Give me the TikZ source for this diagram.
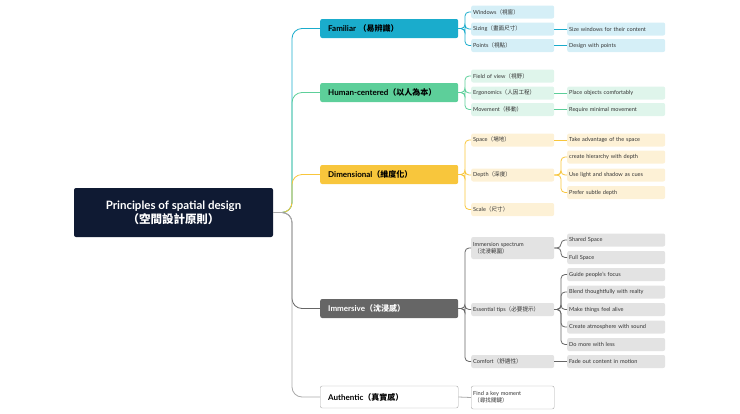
\documentclass[tikz,border=0pt]{standalone}
\usepackage{fontspec}
\setmainfont{Lato}
\newfontfamily\cjk{Noto Sans CJK TC}
\newcommand{\zh}[1]{{\cjk #1}}
\definecolor{navy}{HTML}{0F1A33}
\definecolor{cy}{HTML}{1AACCC}\definecolor{cyl}{HTML}{D5EFF7}
\definecolor{gr}{HTML}{5DCF9A}\definecolor{grl}{HTML}{DFF5EB}
\definecolor{ye}{HTML}{F8C63C}\definecolor{yel}{HTML}{FDF1D6}
\definecolor{gy}{HTML}{666666}\definecolor{gyl}{HTML}{E3E3E3}
\definecolor{bd}{HTML}{AAAAAA}
\begin{document}
\begin{tikzpicture}[x=1pt,y=-1pt,
 l1/.style={anchor=west,minimum width=138pt,minimum height=19pt,rounded corners=2pt,inner xsep=8pt,text width=122pt,align=left,font=\fontsize{8}{9}\selectfont\bfseries},
 l2/.style={anchor=west,minimum width=83pt,minimum height=13pt,rounded corners=2pt,inner xsep=2pt,inner ysep=1pt,text width=79pt,align=left,font=\fontsize{5.6}{6.6}\selectfont,text=black!80},
 l3/.style={anchor=west,minimum width=98pt,minimum height=13pt,rounded corners=2pt,inner xsep=2pt,inner ysep=1pt,text width=94pt,align=left,font=\fontsize{5.6}{6.6}\selectfont,text=black!80},
 ln/.style={line width=0.8pt,rounded corners=4pt},
]
\useasboundingbox (0,0) rectangle (740,413);
\node[fill=navy,text=white,minimum width=199pt,minimum height=49pt,rounded corners=2pt,align=center,font=\fontsize{11.5}{14}\selectfont\bfseries] (root) at (173.5,212.5) {Principles of spatial design\\\zh{（空間設計原則）}};
% L1
\node[l1,fill=cy] (fam) at (320,28.5) {Familiar \zh{（易辨識）}};
\node[l1,fill=gr] (hum) at (320,92.5) {Human-centered\zh{（以人為本）}};
\node[l1,fill=ye] (dim) at (320,174.5) {Dimensional\zh{（維度化）}};
\node[l1,fill=gy,text=white] (imm) at (320,308.5) {Immersive\zh{（沈浸感）}};
\node[l1,draw=bd,fill=white,minimum height=22pt] (aut) at (320,397) {Authentic\zh{（真實感）}};
\foreach \n/\c in {fam/cy,hum/gr,dim/ye,imm/gy,aut/bd}
  \draw[ln,rounded corners=10pt,\c] (root.east) -- (292,212.5) |- (\n.west);
% Familiar
\node[l2,fill=cyl] (f1) at (471,12) {Windows\zh{（視窗）}};
\node[l2,fill=cyl] (f2) at (471,29) {Sizing\zh{（畫面尺寸）}};
\node[l2,fill=cyl] (f3) at (471,45.5) {Points\zh{（視點）}};
\node[l3,fill=cyl] (f2a) at (567,29) {Size windows for their content};
\node[l3,fill=cyl] (f3a) at (567,45.5) {Design with points};
\foreach \n in {f1,f2,f3} \draw[ln,cy] (fam.east) -- (465,28.5) |- (\n.west);
\draw[ln,cy] (f2.east) -- (f2a.west); \draw[ln,cy] (f3.east) -- (f3a.west);
% Human
\node[l2,fill=grl] (h1) at (471,76) {Field of view\zh{（視野）}};
\node[l2,fill=grl] (h2) at (471,93) {Ergonomics\zh{（人因工程）}};
\node[l2,fill=grl] (h3) at (471,109.5) {Movement\zh{（移動）}};
\node[l3,fill=grl] (h2a) at (567,93) {Place objects comfortably};
\node[l3,fill=grl] (h3a) at (567,109.5) {Require minimal movement};
\foreach \n in {h1,h2,h3} \draw[ln,gr] (hum.east) -- (465,92.5) |- (\n.west);
\draw[ln,gr] (h2.east) -- (h2a.west); \draw[ln,gr] (h3.east) -- (h3a.west);
% Dimensional
\node[l2,fill=yel] (d1) at (471,140) {Space\zh{（場地）}};
\node[l2,fill=yel] (d2) at (471,175) {Depth\zh{（深度）}};
\node[l2,fill=yel] (d3) at (471,209.5) {Scale\zh{（尺寸）}};
\node[l3,fill=yel] (d1a) at (567,140) {Take advantage of the space};
\node[l3,fill=yel] (d2a) at (567,157) {create hierarchy with depth};
\node[l3,fill=yel] (d2b) at (567,175) {Use light and shadow as cues};
\node[l3,fill=yel] (d2c) at (567,192.5) {Prefer subtle depth};
\foreach \n in {d1,d2,d3} \draw[ln,ye] (dim.east) -- (465,174.5) |- (\n.west);
\draw[ln,ye] (d1.east) -- (d1a.west);
\foreach \n in {d2a,d2b,d2c} \draw[ln,ye] (d2.east) -- (561,175) |- (\n.west);
% Immersive
\node[l2,fill=gyl,minimum height=22pt] (i1) at (471,248) {Immersion spectrum\\\hspace*{1pt}\zh{（沈浸範圍）}};
\node[l2,fill=gyl] (i2) at (471,309.5) {Essential tips\zh{（必要提示）}};
\node[l2,fill=gyl] (i3) at (471,361.5) {Comfort\zh{（舒適性）}};
\node[l3,fill=gyl] (s1) at (567,240) {Shared Space};
\node[l3,fill=gyl] (s2) at (567,257.5) {Full Space};
\node[l3,fill=gyl] (t1) at (567,274.5) {Guide people's focus};
\node[l3,fill=gyl] (t2) at (567,292) {Blend thoughtfully with realty};
\node[l3,fill=gyl] (t3) at (567,309.5) {Make things feel alive};
\node[l3,fill=gyl] (t4) at (567,327) {Create atmosphere with sound};
\node[l3,fill=gyl] (t5) at (567,344.5) {Do more with less};
\node[l3,fill=gyl] (c1) at (567,361.5) {Fade out content in motion};
\foreach \n in {i1,i2,i3} \draw[ln,gy] (imm.east) -- (465,308.5) |- (\n.west);
\foreach \n in {s1,s2} \draw[ln,gy] (i1.east) -- (561,248) |- (\n.west);
\foreach \n in {t1,t2,t3,t4,t5} \draw[ln,gy] (i2.east) -- (561,309.5) |- (\n.west);
\draw[ln,gy] (i3.east) -- (c1.west);
% Authentic
\node[l2,draw=bd,fill=white,minimum height=23pt] (a1) at (471,397.5) {Find a key moment\\\hspace*{1pt}\zh{（尋找關鍵）}};
\draw[ln,bd] (aut.east) -- (a1.west);
\end{tikzpicture}
\end{document}
